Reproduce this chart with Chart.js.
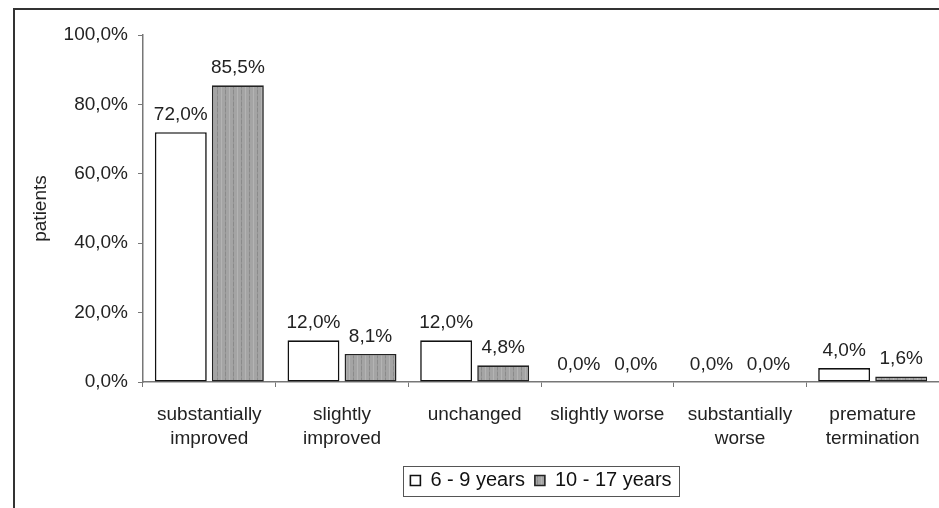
<!DOCTYPE html>
<html>
<head>
<meta charset="utf-8">
<script src="https://cdn.jsdelivr.net/npm/chart.js@4"></script>
<style>
  html, body { margin: 0; padding: 0; background: #fff; overflow: hidden; }
  #wrap { position: relative; width: 939px; height: 508px; }
</style>
</head>
<body>
<div id="wrap"><canvas id="c" width="939" height="508"></canvas></div>
<script>
// Outcome categories (multi-line labels as arrays)
const categories = [
  ['substantially', 'improved'],
  ['slightly', 'improved'],
  'unchanged',
  'slightly worse',
  ['substantially', 'worse'],
  ['premature', 'termination']
];
const seriesNames = ['6 - 9 years', '10 - 17 years'];
const younger = [72.0, 12.0, 12.0, 0.0, 0.0, 4.0];
const older   = [85.5, 8.1, 4.8, 0.0, 0.0, 1.6];
const yTicks  = [0, 20, 40, 60, 80, 100];

const FONT = '"Liberation Sans", Arial, sans-serif';
const LEGEND_PAD = 10;
const fmt = v => v.toFixed(1).replace('.', ',') + '%';

// Grey fill with fine vertical dashed stripes
function stripePattern() {
  const c = document.createElement('canvas');
  c.width = 8; c.height = 6;
  const g = c.getContext('2d');
  g.fillStyle = '#a4a4a4'; g.fillRect(0, 0, 8, 6);
  g.fillStyle = '#8a8a8a'; g.fillRect(1, 0, 1, 4);
  g.fillStyle = '#969696'; g.fillRect(1, 4, 1, 2);
  g.fillStyle = '#b4b4b4'; g.fillRect(5, 0, 1, 6);
  return document.getElementById('c').getContext('2d').createPattern(c, 'repeat');
}

const frame = {
  id: 'frame',
  beforeDraw(chart) {
    const ctx = chart.ctx;
    ctx.save();
    ctx.fillStyle = '#fff';
    ctx.fillRect(0, 0, chart.width, chart.height);
    ctx.strokeStyle = '#333';
    ctx.lineWidth = 2;
    ctx.beginPath();
    ctx.moveTo(14, 520); ctx.lineTo(14, 9); ctx.lineTo(945, 9);
    ctx.stroke();
    ctx.restore();
  }
};

// Centre the legend under the plot area rather than the whole canvas
const legendShift = {
  id: 'legendShift',
  afterUpdate(chart) {
    const lg = chart.legend;
    if (!lg) return;
    const area = chart.chartArea;
    const dx = (area.left + area.right) / 2 - (lg.left + lg.right) / 2;
    lg.left += dx;
    lg.right += dx;
  }
};

const valueLabels = {
  id: 'valueLabels',
  afterDatasetsDraw(chart) {
    const ctx = chart.ctx;
    ctx.save();
    ctx.font = '19px ' + FONT;
    ctx.fillStyle = '#222';
    ctx.textAlign = 'center';
    ctx.textBaseline = 'alphabetic';
    chart.data.datasets.forEach((ds, i) => {
      chart.getDatasetMeta(i).data.forEach((bar, j) => {
        ctx.fillText(fmt(ds.data[j]), bar.x, bar.y - 12);
      });
    });
    ctx.restore();
  }
};

// Thin box round the legend row
const legendBox = {
  id: 'legendBox',
  afterDraw(chart) {
    const lg = chart.legend;
    if (!lg || !lg.lineWidths) return;
    const W = lg.lineWidths[0];
    const x0 = (lg.left + LEGEND_PAD + lg.right - W) / 2;
    const left = x0 - 7;
    const right = x0 + W - LEGEND_PAD + 8;
    const itemH = lg.options.labels.font.size;
    const top = lg.top + LEGEND_PAD - 5;
    const bottom = lg.top + LEGEND_PAD + itemH + 5;
    const ctx = chart.ctx;
    ctx.save();
    ctx.strokeStyle = '#555';
    ctx.lineWidth = 1;
    ctx.strokeRect(Math.round(left) + 0.5, Math.round(top) + 0.5, Math.round(right - left), Math.round(bottom - top));
    ctx.restore();
  }
};

const zeroless = w => ctx => (ctx.raw === 0 ? 0 : w);

new Chart(document.getElementById('c'), {
  type: 'bar',
  data: {
    labels: categories,
    datasets: [
      {
        label: seriesNames[0],
        data: younger,
        backgroundColor: '#ffffff',
        borderColor: '#111',
        borderWidth: zeroless(1.6),
        borderSkipped: false,
        barPercentage: 0.91,
        categoryPercentage: 0.86
      },
      {
        label: seriesNames[1],
        data: older,
        backgroundColor: stripePattern(),
        borderColor: '#222',
        borderWidth: zeroless(1.6),
        borderSkipped: false,
        barPercentage: 0.91,
        categoryPercentage: 0.86
      }
    ]
  },
  options: {
    responsive: false,
    animation: false,
    devicePixelRatio: 1,
    events: [],
    layout: { padding: { top: 35, left: 25, right: 0, bottom: 7.5 } },
    plugins: {
      tooltip: { enabled: false },
      legend: {
        position: 'bottom',
        labels: {
          boxWidth: 10,
          boxHeight: 10,
          padding: LEGEND_PAD,
          color: '#111',
          font: { size: 20, family: FONT }
        }
      }
    },
    scales: {
      x: {
        afterFit: s => { s.height = 78.5; },
        grid: { drawOnChartArea: false, drawTicks: true, tickLength: 5, color: '#777', offset: true },
        border: { color: '#777', width: 1.5 },
        ticks: {
          color: '#222',
          padding: 16,
          maxRotation: 0,
          autoSkip: false,
          font: { size: 19, family: FONT, lineHeight: 1.25 }
        }
      },
      y: {
        min: 0,
        max: 100,
        afterFit: s => { s.width = 118; },
        afterBuildTicks: s => { s.ticks = yTicks.map(v => ({ value: v })); },
        grid: { drawOnChartArea: false, drawTicks: true, tickLength: 5, color: '#777' },
        border: { color: '#777', width: 1.5 },
        ticks: {
          color: '#222',
          padding: 10,
          font: { size: 19, family: FONT },
          callback: v => fmt(v)
        },
        title: {
          display: true,
          text: 'patients',
          color: '#222',
          font: { size: 19, family: FONT },
          padding: { top: 4, bottom: 4 }
        }
      }
    }
  },
  plugins: [frame, legendShift, valueLabels, legendBox]
});
</script>
</body>
</html>
